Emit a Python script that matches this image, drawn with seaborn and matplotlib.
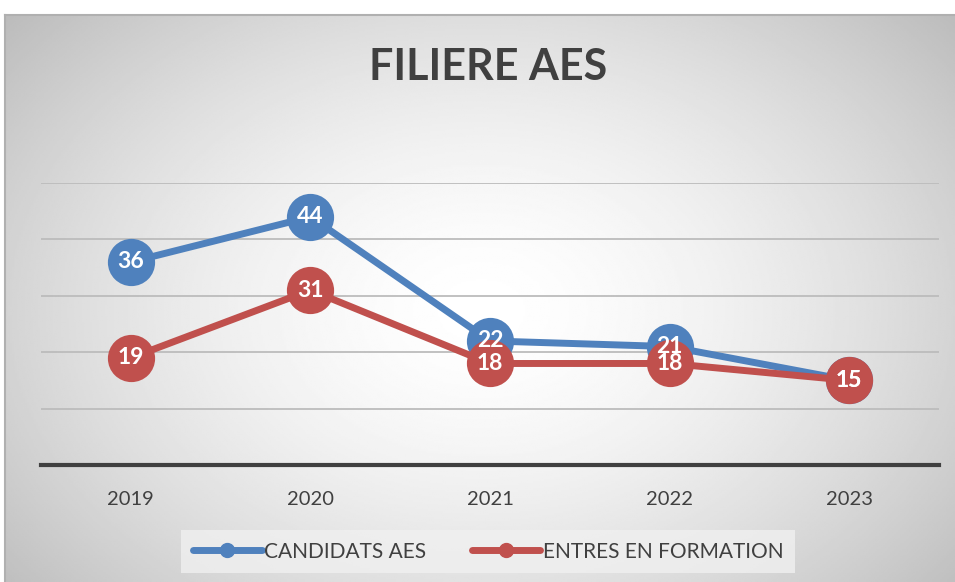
import numpy as np
import pandas as pd
import matplotlib
matplotlib.use("Agg")
import matplotlib.pyplot as plt
import seaborn as sns

# data
years = ["2019", "2020", "2021", "2022", "2023"]
candidats = [36, 44, 22, 21, 15]
entres = [19, 31, 18, 18, 15]
series_names = ["CANDIDATS AES", "ENTRES EN FORMATION"]
colors = ["#4f81bd", "#c0504d"]

df = pd.DataFrame({
    "pos": list(range(len(years))) * 2,
    "value": candidats + entres,
    "serie": [series_names[0]] * len(years) + [series_names[1]] * len(years),
})

sns.set_theme(style="white")
plt.rcParams["font.family"] = ["Lato", "DejaVu Sans"]

fig = plt.figure(figsize=(9.55, 5.82), dpi=100)

# radial gradient background of the chart area
bg = fig.add_axes([5 / 955, 0, 950 / 955, 567 / 582])
h, w = 300, 500
yy, xx = np.mgrid[0:h, 0:w]
cx, cy = w * 0.50, h * 0.52
r = np.sqrt(((xx - cx) / (w * 0.62)) ** 2 + ((yy - cy) / (h * 0.75)) ** 2)
shade = 1 - 0.24 * np.clip(r, 0, 1.2) ** 1.6
bg.imshow(shade, cmap="gray", vmin=0, vmax=1, aspect="auto", extent=[0, 1, 0, 1])
bg.set_xlim(0, 1)
bg.set_ylim(0, 1)
for s in bg.spines.values():
    s.set_visible(False)
bg.spines["top"].set_visible(True)
bg.spines["left"].set_visible(True)
bg.spines["top"].set_color("#b0b0b0")
bg.spines["left"].set_color("#b0b0b0")
bg.spines["top"].set_linewidth(1.5)
bg.spines["left"].set_linewidth(1.5)
bg.set_xticks([])
bg.set_yticks([])

ax = fig.add_axes([41 / 955, 117 / 582, 898 / 955, 282 / 582])
ax.patch.set_alpha(0)

sns.lineplot(data=df, x="pos", y="value", hue="serie", palette=colors,
             linewidth=5, marker="o", markersize=34, markeredgewidth=0,
             ax=ax, legend=False, zorder=3)

# value labels, red drawn last so it sits on top
for vals, col, z in [(candidats, colors[0], 4), (entres, colors[1], 5)]:
    for i, v in enumerate(vals):
        ax.text(i, v, str(v), ha="center", va="center", color="white",
                fontsize=16.5, fontweight="bold", zorder=z)

ax.set_xlim(-0.5, 4.5)
ax.set_ylim(0, 50)
ax.set_yticks([10, 20, 30, 40, 50])
ax.set_yticklabels([])
ax.yaxis.grid(True, color="#bcbcbc", linewidth=1.3)
ax.set_axisbelow(True)
ax.set_xticks(range(len(years)))
ax.set_xticklabels(years, fontsize=14.5, color="#404040")
ax.tick_params(axis="x", length=0, pad=19)
ax.tick_params(axis="y", length=0)
ax.set_xlabel("")
ax.set_ylabel("")
for s in ["top", "right", "left"]:
    ax.spines[s].set_visible(False)
ax.spines["bottom"].set_color("#404040")
ax.spines["bottom"].set_linewidth(3)

fig.text(0.511, 0.885, "FILIERE AES", ha="center", va="center",
         fontsize=31, fontweight="bold", color="#404040")

handles = [plt.Line2D([], [], color=c, linewidth=5, marker="o", markersize=10)
           for c in colors]
leg = fig.legend(handles, series_names, loc="center", bbox_to_anchor=(0.511, 0.052),
                 ncol=2, frameon=True, fontsize=15, handlelength=3.3,
                 columnspacing=2.2, handletextpad=0.1, borderpad=0.55,
                 borderaxespad=0, fancybox=False)
leg.get_frame().set_facecolor("#f0f0f0")
leg.get_frame().set_edgecolor("none")
for t in leg.get_texts():
    t.set_color("#404040")

fig.savefig("out.png", dpi=100)
